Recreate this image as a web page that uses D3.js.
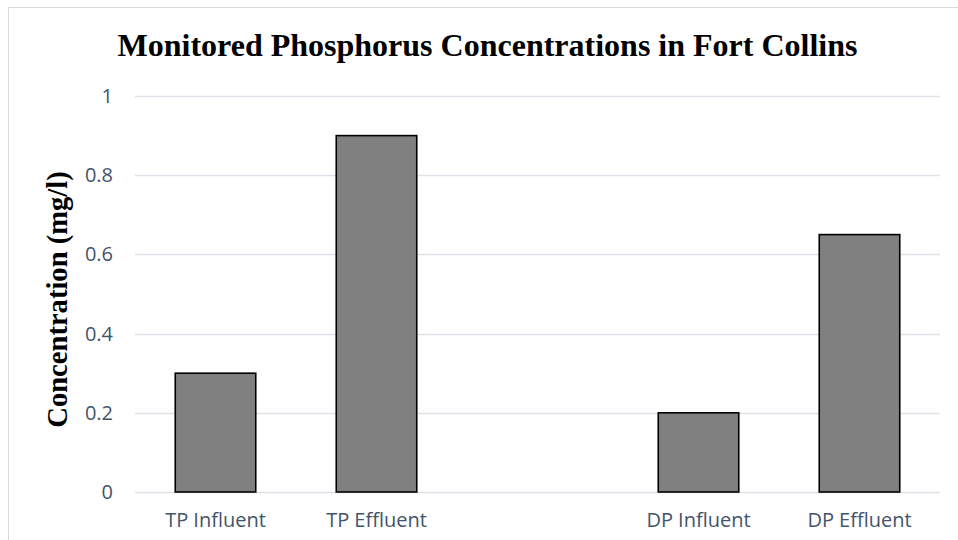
<!DOCTYPE html>
<html>
<head>
<meta charset="utf-8">
<script src="https://cdn.jsdelivr.net/npm/d3@7"></script>
<style>
  body { margin: 0; background: #fff; }
</style>
</head>
<body>
<div id="chart"></div>
<script>
var categories = ["TP Influent", "TP Effluent", "", "DP Influent", "DP Effluent"];
var values = [0.3, 0.9, null, 0.2, 0.65];
var yTicks = [0, 0.2, 0.4, 0.6, 0.8, 1];

var W = 958, H = 540;
var margin = {top: 96, right: 18, bottom: 48, left: 135},
    width = W - margin.left - margin.right,
    height = H - margin.top - margin.bottom;

var svg = d3.select("#chart").append("svg")
  .attr("width", W)
  .attr("height", H);

// chart area border (right and bottom run off the picture)
svg.append("rect")
  .attr("x", 8.5).attr("y", 7.5)
  .attr("width", W).attr("height", H)
  .attr("fill", "none")
  .attr("stroke", "#d9dce2");

var g = svg.append("g")
  .attr("transform", "translate(" + margin.left + "," + margin.top + ")");

var x = d3.scaleBand()
  .domain(categories.map(function(d, i) { return i; }))
  .range([0, width])
  .paddingInner(0.5)
  .paddingOuter(0.25);

var y = d3.scaleLinear()
  .domain([0, 1])
  .range([height, 0]);

// gridlines
g.selectAll(".grid")
  .data(yTicks)
  .enter().append("line")
  .attr("class", "grid")
  .attr("x1", 0).attr("x2", width)
  .attr("y1", function(d) { return Math.round(y(d)) + 0.5; })
  .attr("y2", function(d) { return Math.round(y(d)) + 0.5; })
  .attr("stroke", "#dde1e8")
  .attr("stroke-width", 1.3);

// y axis labels
var yAxis = g.append("g")
  .call(d3.axisLeft(y).tickValues(yTicks).tickSize(0).tickPadding(22).tickFormat(d3.format("")));
yAxis.select(".domain").remove();
yAxis.selectAll("text")
  .attr("fill", "#44546a")
  .style("font-family", "'Open Sans', sans-serif")
  .style("font-size", "20px");

// x axis labels
var xAxis = g.append("g")
  .attr("transform", "translate(0," + height + ")")
  .call(d3.axisBottom(x).tickSize(0).tickPadding(21).tickFormat(function(i) { return categories[i]; }));
xAxis.select(".domain").remove();
xAxis.selectAll("text")
  .attr("fill", "#44546a")
  .style("font-family", "'Open Sans', sans-serif")
  .style("font-size", "20px");

// bars
g.selectAll(".bar")
  .data(values.map(function(v, i) { return {i: i, v: v}; }).filter(function(d) { return d.v != null; }))
  .enter().append("rect")
  .attr("class", "bar")
  .attr("x", function(d) { return x(d.i); })
  .attr("y", function(d) { return y(d.v); })
  .attr("width", x.bandwidth())
  .attr("height", function(d) { return height - y(d.v); })
  .attr("fill", "#808080")
  .attr("stroke", "#000")
  .attr("stroke-width", 1.6);

// title
svg.append("text")
  .attr("x", 487.5)
  .attr("y", 56)
  .attr("text-anchor", "middle")
  .style("font-family", "'Liberation Serif', 'Times New Roman', serif")
  .style("font-weight", "bold")
  .style("font-size", "32px")
  .attr("fill", "#000")
  .text("Monitored Phosphorus Concentrations in Fort Collins");

// y axis title
svg.append("text")
  .attr("transform", "translate(67,299.5) rotate(-90)")
  .attr("text-anchor", "middle")
  .style("font-family", "'Liberation Serif', 'Times New Roman', serif")
  .style("font-weight", "bold")
  .style("font-size", "28.6px")
  .attr("fill", "#000")
  .text("Concentration (mg/l)");
</script>
</body>
</html>
